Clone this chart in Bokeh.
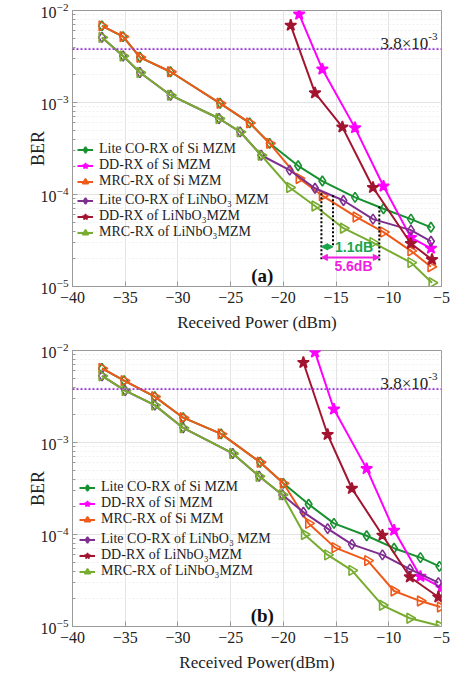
import math
from bokeh.plotting import figure
from bokeh.layouts import column
from bokeh.models import (FixedTicker, Legend, LegendItem, Label, Arrow, NormalHead, Span)
from bokeh.embed import file_html
from bokeh.resources import INLINE

# ---------------- data (a) ----------------
a_lite_si_x = [-37.2, -35.2, -33.6, -30.7, -26.0, -23.2, -21.3, -18.6, -16.3, -13.2, -10.5, -7.9, -6.0]
a_lite_si_y = [6.8e-3, 5.2e-3, 3.1e-3, 2.16e-3, 9.8e-4, 6.0e-4, 3.6e-4, 2.05e-4, 1.40e-4, 9.3e-5, 7.0e-5, 5.4e-5, 4.4e-5]
a_dd_si_x = [-18.5, -16.3, -13.2, -10.5, -7.9, -6.0]
a_dd_si_y = [9.1e-3, 2.3e-3, 5.3e-4, 1.23e-4, 3.4e-5, 2.6e-5]
a_mrc_si_x = [-37.2, -35.2, -33.6, -30.7, -26.0, -23.2, -21.3, -18.5, -16.3, -13.1, -10.5, -7.9, -6.0]
a_mrc_si_y = [6.8e-3, 5.2e-3, 3.1e-3, 2.16e-3, 9.8e-4, 6.0e-4, 3.6e-4, 1.49e-4, 9.7e-5, 5.7e-5, 3.9e-5, 2.44e-5, 1.64e-5]
a_lite_ln_x = [-37.2, -35.2, -33.6, -30.7, -26.1, -24.1, -22.1, -19.4, -17.0, -14.3, -11.5, -7.9, -6.0]
a_lite_ln_y = [5.1e-3, 3.2e-3, 2.12e-3, 1.2e-3, 6.7e-4, 4.8e-4, 2.67e-4, 1.84e-4, 1.17e-4, 8.6e-5, 5.4e-5, 4.1e-5, 3.1e-5]
a_dd_ln_x = [-19.3, -17.0, -14.4, -11.5, -7.9, -5.9]
a_dd_ln_y = [6.9e-3, 1.27e-3, 5.4e-4, 1.19e-4, 2.93e-5, 1.96e-5]
a_mrc_ln_x = [-37.2, -35.2, -33.6, -30.7, -26.1, -24.1, -22.1, -19.4, -17.0, -14.3, -11.5, -7.9, -5.9]
a_mrc_ln_y = [5.1e-3, 3.2e-3, 2.12e-3, 1.2e-3, 6.7e-4, 4.8e-4, 2.67e-4, 1.19e-4, 7.5e-5, 4.3e-5, 3.0e-5, 1.82e-5, 1.1e-5]

# ---------------- data (b) ----------------
b_lite_si_x = [-37.2, -35.1, -32.2, -29.5, -25.9, -22.2, -20.0, -17.6, -15.2, -12.1, -9.5, -7.0, -5.2]
b_lite_si_y = [6.4e-3, 4.7e-3, 3.15e-3, 1.86e-3, 1.24e-3, 6.1e-4, 3.6e-4, 2.13e-4, 1.32e-4, 9.7e-5, 7.1e-5, 5.6e-5, 4.5e-5]
b_dd_si_x = [-17.0, -15.2, -12.1, -9.5, -7.0, -5.0]
b_dd_si_y = [9.6e-3, 2.3e-3, 5.2e-4, 1.11e-4, 3.5e-5, 2.64e-5]
b_mrc_si_x = [-37.2, -35.1, -32.2, -29.5, -25.9, -22.2, -20.0, -17.6, -15.1, -12.0, -9.5, -7.0, -5.1]
b_mrc_si_y = [6.4e-3, 4.7e-3, 3.15e-3, 1.86e-3, 1.24e-3, 6.1e-4, 3.6e-4, 1.32e-4, 7.2e-5, 5.2e-5, 2.43e-5, 1.89e-5, 1.63e-5]
b_lite_ln_x = [-37.2, -35.0, -32.2, -29.5, -24.8, -22.3, -20.1, -18.1, -15.8, -13.5, -10.6, -8.0, -5.3]
b_lite_ln_y = [5.3e-3, 3.66e-3, 2.55e-3, 1.44e-3, 7.6e-4, 4.3e-4, 2.7e-4, 1.75e-4, 1.16e-4, 7.8e-5, 6.0e-5, 4.2e-5, 3.0e-5]
b_dd_ln_x = [-18.1, -15.8, -13.5, -10.6, -8.0, -5.3]
b_dd_ln_y = [7.4e-3, 1.22e-3, 3.16e-4, 9.8e-5, 3.45e-5, 2.09e-5]
b_mrc_ln_x = [-37.2, -35.0, -32.2, -29.5, -24.8, -22.3, -20.1, -18.0, -15.8, -13.5, -10.6, -8.0, -5.2]
b_mrc_ln_y = [5.3e-3, 3.66e-3, 2.55e-3, 1.44e-3, 7.6e-4, 4.3e-4, 2.7e-4, 1.0e-4, 6.0e-5, 4.07e-5, 1.7e-5, 1.23e-5, 1.02e-5]

labels = ["Lite CO-RX of Si MZM", "DD-RX of Si MZM", "MRC-RX of Si MZM",
          "Lite CO-RX of LiNbO\u2083 MZM", "DD-RX of LiNbO\u2083MZM", "MRC-RX of LiNbO\u2083MZM"]
colors = ["#17912f", "#ff00ff", "#ef5a1a", "#7e2f8e", "#a2142f", "#77ac30"]
markers = ["diamond", "star", "triangle", "diamond", "star", "triangle"]

x_ticks = [-40, -35, -30, -25, -20, -15, -10, -5]
y_ticks = [1e-5, 1e-4, 1e-3, 1e-2]
y_minor = [m * 10.0 ** e for e in (-5, -4, -3) for m in range(2, 10)]
threshold = 3.8e-3

# annotation values (a)
dash_x = [-16.39, -15.29, -10.9]
dash_top = [1.03e-4, 9.8e-5, 7.4e-5]
dash_bot = [1.93e-5, 2.8e-5, 1.87e-5]

SERIF = "Liberation Serif"


def make_fig(series, height, mb_top, mb_bottom, mb_left, mb_right, xlabel, tag, leg_off):
    p = figure(width=452, height=height, x_range=(-40, -5), y_range=(1e-5, 1e-2),
               y_axis_type="log", output_backend="svg", toolbar_location=None,
               min_border_top=mb_top, min_border_bottom=mb_bottom,
               min_border_left=mb_left, min_border_right=mb_right)
    p.outline_line_color = "#9a9a9a"
    p.xaxis.ticker = FixedTicker(ticks=x_ticks)
    p.yaxis.ticker = FixedTicker(ticks=y_ticks, minor_ticks=y_minor)
    for ax in (p.xaxis[0], p.yaxis[0]):
        ax.major_label_text_font = SERIF
        ax.major_label_text_font_size = "16px"
        ax.major_label_text_color = "#222222"
        ax.axis_label_text_font = SERIF
        ax.axis_label_text_font_style = "normal"
        ax.axis_label_text_color = "#222222"
        ax.axis_line_color = "#9a9a9a"
        ax.major_tick_line_color = "#9a9a9a"
        ax.minor_tick_line_color = "#9a9a9a"
        ax.major_tick_in = 5
        ax.major_tick_out = 0
        ax.minor_tick_in = 3
        ax.minor_tick_out = 0
        ax.major_label_standoff = 4
    p.xaxis.axis_label = xlabel
    p.xaxis.axis_label_text_font_size = "17px"
    p.xaxis.axis_label_standoff = 7
    p.xaxis.major_label_standoff = 5
    p.yaxis.axis_label = "BER"
    p.yaxis.axis_label_text_font_size = "18px"
    p.yaxis.axis_label_standoff = -10

    p.xgrid.grid_line_color = "#e3e3e3"
    p.ygrid.grid_line_color = "#e3e3e3"
    p.ygrid.minor_grid_line_color = "#efefef"
    p.ygrid.minor_grid_line_dash = "2 2"

    p.add_layout(Span(location=threshold, dimension="width", line_color="#9b30d9",
                      line_width=1.6, line_dash="2 2"))

    rends = []
    for (xs, ys), lab, col, mk in zip(series, labels, colors, markers):
        ln = p.line(xs, ys, line_color=col, line_width=2)
        kw = dict(x=xs, y=ys, marker=mk, line_color=col, line_width=1.6)
        if mk == "star":
            sc = p.scatter(size=12, fill_color=col, **kw)
        elif mk == "triangle":
            sc = p.scatter(size=10, fill_alpha=0, angle=-math.pi / 2, **kw)
        else:
            sc = p.scatter(size=10, fill_alpha=0, **kw)
        rends.append([ln, sc])

    for grp, top in ((0, leg_off[1]), (1, leg_off[2])):
        items = [LegendItem(label=labels[i], renderers=rends[i]) for i in range(grp * 3, grp * 3 + 3)]
        leg = Legend(items=items, location=(leg_off[0], top), padding=0, margin=0, spacing=0,
                     glyph_width=16, glyph_height=15, label_height=15, label_standoff=6,
                     label_text_font=SERIF, label_text_font_size="14px",
                     label_text_color="#222222",
                     background_fill_alpha=0, border_line_alpha=0)
        p.add_layout(leg)

    p.add_layout(Label(x=-22.0, y=1.32e-5, text=tag, text_font=SERIF, text_font_size="19px",
                       text_font_style="bold", text_align="center", text_baseline="middle",
                       text_color="#111111"))
    p.add_layout(Label(x=-6.25, y=threshold, text="3.8\u00d710", text_font=SERIF,
                       text_font_size="17px", text_align="right", text_baseline="alphabetic",
                       y_offset=6, text_color="#222222"))
    p.add_layout(Label(x=-6.25, y=threshold, text="-3", text_font=SERIF,
                       text_font_size="11px", text_align="left", text_baseline="alphabetic",
                       y_offset=13, text_color="#222222"))
    return p


series_a = [(a_lite_si_x, a_lite_si_y), (a_dd_si_x, a_dd_si_y), (a_mrc_si_x, a_mrc_si_y),
            (a_lite_ln_x, a_lite_ln_y), (a_dd_ln_x, a_dd_ln_y), (a_mrc_ln_x, a_mrc_ln_y)]
series_b = [(b_lite_si_x, b_lite_si_y), (b_dd_si_x, b_dd_si_y), (b_mrc_si_x, b_mrc_si_y),
            (b_lite_ln_x, b_lite_ln_y), (b_dd_ln_x, b_dd_ln_y), (b_mrc_ln_x, b_mrc_ln_y)]

pa = make_fig(series_a, 338, 10, 52, 69, 11, "Received Power (dBm)", "(a)", (5, 97, 46))
pb = make_fig(series_b, 340, 12, 52, 72, 10, "Received Power(dBm)", "(b)", (7, 99, 47))

# extra annotations in (a)
pa.segment(x0=dash_x, y0=dash_top, x1=dash_x, y1=dash_bot, line_color="black",
           line_width=2, line_dash="2 2")
pa.add_layout(Arrow(x_start=dash_x[0], y_start=2.7e-5, x_end=dash_x[1], y_end=2.7e-5,
                    line_color="#1aa54a", line_width=2,
                    start=NormalHead(size=6, fill_color="#1aa54a", line_color="#1aa54a"),
                    end=NormalHead(size=6, fill_color="#1aa54a", line_color="#1aa54a")))
pa.add_layout(Arrow(x_start=dash_x[0], y_start=2.07e-5, x_end=dash_x[2], y_end=2.07e-5,
                    line_color="#f020e0", line_width=2,
                    start=NormalHead(size=6, fill_color="#f020e0", line_color="#f020e0"),
                    end=NormalHead(size=6, fill_color="#f020e0", line_color="#f020e0")))
pa.add_layout(Label(x=-15.1, y=2.7e-5, text="1.1dB", text_font="Liberation Sans",
                    text_font_size="14px", text_font_style="bold", text_color="#1aa54a",
                    text_align="left", text_baseline="middle"))
pa.add_layout(Label(x=-13.35, y=1.65e-5, text="5.6dB", text_font="Liberation Sans",
                    text_font_size="14px", text_font_style="bold", text_color="#f020e0",
                    text_align="center", text_baseline="middle"))

layout = column(pa, pb, spacing=0)
open("out.html", "w").write(file_html(layout, INLINE))
